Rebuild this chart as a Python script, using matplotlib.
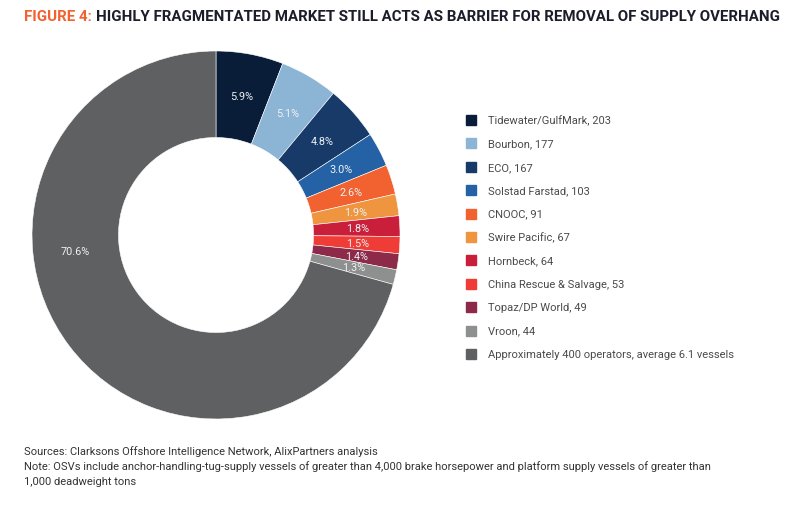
import matplotlib
matplotlib.use("Agg")
import matplotlib.pyplot as plt
from matplotlib.patches import Rectangle
import numpy as np

operators = ["Tidewater/GulfMark", "Bourbon", "ECO", "Solstad Farstad", "CNOOC",
             "Swire Pacific", "Hornbeck", "China Rescue & Salvage", "Topaz/DP World",
             "Vroon", "Approximately 400 operators, average 6.1 vessels"]
vessels = ["203", "177", "167", "103", "91", "67", "64", "53", "49", "44", None]
shares = [5.9, 5.1, 4.8, 3.0, 2.6, 1.9, 1.8, 1.5, 1.4, 1.3, 70.6]
colors = ["#091d38", "#8cb4d4", "#173a68", "#2462a5", "#f26130", "#f0953f",
          "#c91f3b", "#ef3c36", "#8d2a4a", "#8e908f", "#5f6062"]

W, H = 798, 510
fig = plt.figure(figsize=(W / 100, H / 100), dpi=100)
renderer = fig.canvas.get_renderer()

cx, cy, R = 216, 236, 184
ax = fig.add_axes([(cx - R) / W, (H - cy - R) / H, 2 * R / W, 2 * R / H])
wedges, _ = ax.pie(shares, colors=colors, startangle=90, counterclock=False,
                   radius=1.0, wedgeprops=dict(width=0.47, edgecolor="white", linewidth=0.4))
ax.set_xlim(-1, 1)
ax.set_ylim(-1, 1)
ax.set_aspect("equal")
ax.axis("off")

lab_r = 0.77
for i, (w, s) in enumerate(zip(wedges, shares)):
    mid = (w.theta1 + w.theta2) / 2
    if i == len(shares) - 1:
        mid = 186.5  # big wedge label sits at left side in reference
    ang = np.deg2rad(mid)
    ax.text(lab_r * np.cos(ang), lab_r * np.sin(ang), f"{s:.1f}%",
            ha="center", va="center", fontsize=7.8, color="#eef2f6", family="Roboto")

cond = dict(family=["Roboto", "DejaVu Sans"], fontstretch="condensed")

# Title
t1 = fig.text(24 / W, 1 - 17 / H, "FIGURE 4:", color="#f26130", fontsize=10,
              fontweight="bold", va="center", **cond)
t2 = fig.text(0, 1 - 17 / H,
              "HIGHLY FRAGMENTATED MARKET STILL ACTS AS BARRIER FOR REMOVAL OF SUPPLY OVERHANG",
              color="#1c1d2b", fontsize=10, fontweight="bold", va="center", **cond)
w1 = t1.get_window_extent(renderer).width
w2 = t2.get_window_extent(renderer).width
gap = 4
scale = (753 - gap) / (w1 + w2)
scale = min(scale, 1.25)
for t in (t1, t2):
    t.set_fontsize(10 * scale)
w1 = t1.get_window_extent(renderer).width
t2.set_x((24 + w1 + gap) / W)

# Legend
for i, (name, v, c) in enumerate(zip(operators, vessels, colors)):
    y = 121 + i * 23.4
    fig.add_artist(Rectangle((466 / W, 1 - (y + 5) / H), 10 / W, 10 / H,
                             transform=fig.transFigure, color=c))
    label = name if v is None else f"{name}, {v}"
    fig.text(488 / W, 1 - y / H, label, fontsize=8.0, color="#4a4a4a",
             family="Roboto", va="center")

# Footnotes
notes = ["Sources: Clarksons Offshore Intelligence Network, AlixPartners analysis",
         "Note: OSVs include anchor-handling-tug-supply vessels of greater than 4,000 brake horsepower and platform supply vessels of greater than",
         "1,000 deadweight tons"]
ft = []
for i, t in enumerate(notes):
    ft.append(fig.text(24 / W, 1 - (452 + i * 15) / H, t, fontsize=8, color="#333333",
                       va="center", **cond))
wn = ft[1].get_window_extent(renderer).width
fs = min(8 * 689 / wn, 9)
for t in ft:
    t.set_fontsize(fs)

fig.savefig("out.png", dpi=100, facecolor="white")
